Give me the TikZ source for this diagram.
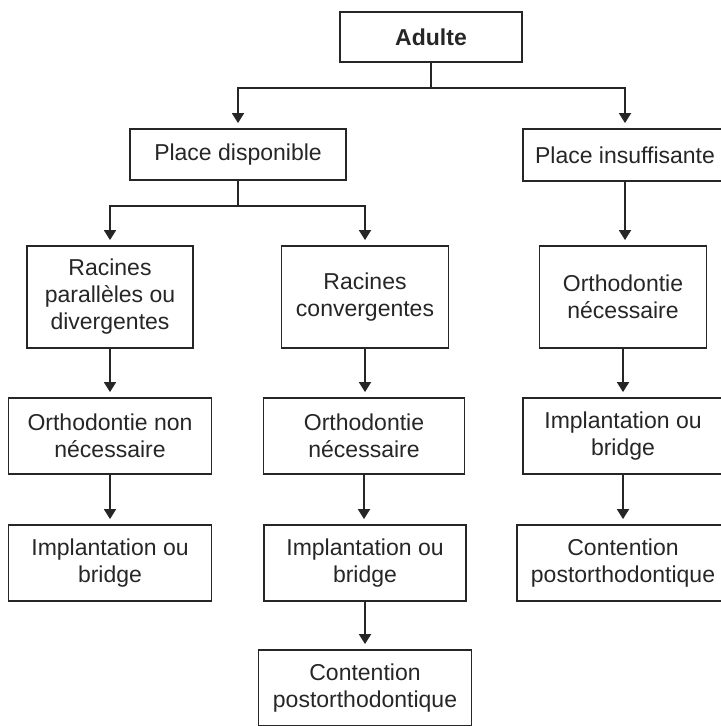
\documentclass[tikz,border=0pt]{standalone}
\usepackage{fontspec}
\setmainfont{Liberation Sans}
\usetikzlibrary{arrows.meta}

\begin{document}
\begin{tikzpicture}[x=0.5pt,y=-0.5pt,
  box/.style={draw=black!85, line width=0.9pt, inner sep=0pt, align=center,
    font=\fontsize{11.5}{13.5}\selectfont, text=black!85},
  arr/.style={draw=black!85, line width=0.9pt, shorten >=2.5pt,
    -{Triangle[length=5pt,width=6pt]}}]
\useasboundingbox (0,0) rectangle (720,726);
% top level
\node[box, minimum width=91pt, minimum height=25pt, font=\fontsize{11.5}{13.5}\selectfont\bfseries] (adulte) at (431,37) {Adulte};
\node[box, minimum width=108pt, minimum height=25.5pt] (dispo) at (238,154.5) {Place disponible};
\node[box, minimum width=102pt, minimum height=26pt] (insuff) at (625,155) {Place insuffisante};
% second level
\node[box, minimum width=83pt, minimum height=51pt] (rpar) at (110,297) {Racines\\parallèles ou\\divergentes};
\node[box, minimum width=83.5pt, minimum height=51pt] (rconv) at (365,297) {Racines\\convergentes};
\node[box, minimum width=83.5pt, minimum height=51pt] (orthR) at (623,297) {Orthodontie\\nécessaire};
% third level
\node[box, minimum width=101.5pt, minimum height=38pt] (onn) at (110,436) {Orthodontie non\\nécessaire};
\node[box, minimum width=100.5pt, minimum height=38pt] (onec) at (364,436) {Orthodontie\\nécessaire};
\node[box, minimum width=100pt, minimum height=38pt] (implR) at (623,436) {Implantation ou\\bridge};
% fourth level
\node[box, minimum width=101.5pt, minimum height=38pt] (implL) at (110,563) {Implantation ou\\bridge};
\node[box, minimum width=101pt, minimum height=38pt] (implM) at (365,563) {Implantation ou\\bridge};
\node[box, minimum width=106pt, minimum height=38pt] (contR) at (623,563) {Contention\\postorthodontique};
\node[box, minimum width=106.5pt, minimum height=38pt] (contM) at (365,688) {Contention\\postorthodontique};
% connectors
\draw[arr] (adulte.south) -- ++(0,25) -| (dispo.north);
\draw[arr] (adulte.south) -- ++(0,25) -| (insuff.north);
\draw[arr] (dispo.south) -- ++(0,25) -| (rpar.north);
\draw[arr] (dispo.south) -- ++(0,25) -| (rconv.north);
\foreach \a/\b in {insuff/orthR, orthR/implR, implR/contR, rpar/onn, onn/implL,
    rconv/onec, onec/implM, implM/contM}
  \draw[arr] (\a.south) -- (\a.south |- \b.north);
\end{tikzpicture}
\end{document}
